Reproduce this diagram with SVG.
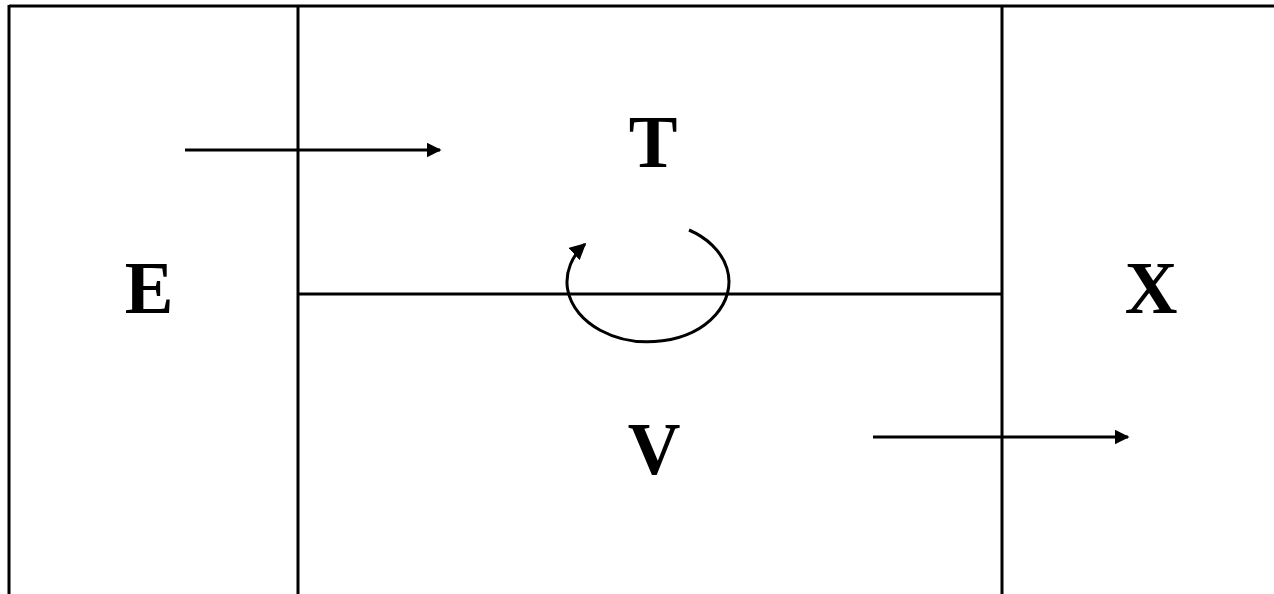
<svg xmlns="http://www.w3.org/2000/svg" width="1274" height="594" viewBox="0 0 1274 594">
<style>
.ln{stroke:#000;stroke-width:3;fill:none}
.lbl{font-family:"Liberation Serif","Times New Roman",serif;font-weight:bold;font-size:73px;fill:#000;text-anchor:middle}
</style>
<defs>
<marker id="ah" viewBox="0 0 10 10" refX="9" refY="5" markerWidth="5" markerHeight="5" orient="auto" markerUnits="strokeWidth">
<path d="M0,0 L10,5 L0,10 Z" fill="#000"/>
</marker>
<marker id="ah2" viewBox="0 0 10 10" refX="9" refY="5" markerWidth="5.5" markerHeight="5.5" orient="auto" markerUnits="strokeWidth">
<path d="M0,0 L10,5 L0,10 Z" fill="#000"/>
</marker>
</defs>
<rect width="1274" height="594" fill="#fff"/>
<g id="frame">
<line class="ln" x1="9" y1="6" x2="1274" y2="6"/>
<line class="ln" x1="9" y1="5" x2="9" y2="594"/>
<line class="ln" x1="298" y1="6" x2="298" y2="594"/>
<line class="ln" x1="1002" y1="6" x2="1002" y2="594"/>
<line class="ln" x1="298" y1="294" x2="1002" y2="294"/>
</g>
<g id="E"><text class="lbl" x="149" y="313">E</text></g>
<g id="T"><text class="lbl" x="653" y="167">T</text></g>
<g id="V"><text class="lbl" x="654" y="474">V</text></g>
<g id="X"><text class="lbl" x="1151" y="313">X</text></g>
<g id="connectors">
<line class="ln" x1="185" y1="150" x2="440" y2="150" marker-end="url(#ah)"/>
<line class="ln" x1="873" y1="437" x2="1128" y2="437" marker-end="url(#ah)"/>
<path class="ln" d="M689,230 A81,60 0 1 1 585,244" marker-end="url(#ah2)"/>
</g>
</svg>
